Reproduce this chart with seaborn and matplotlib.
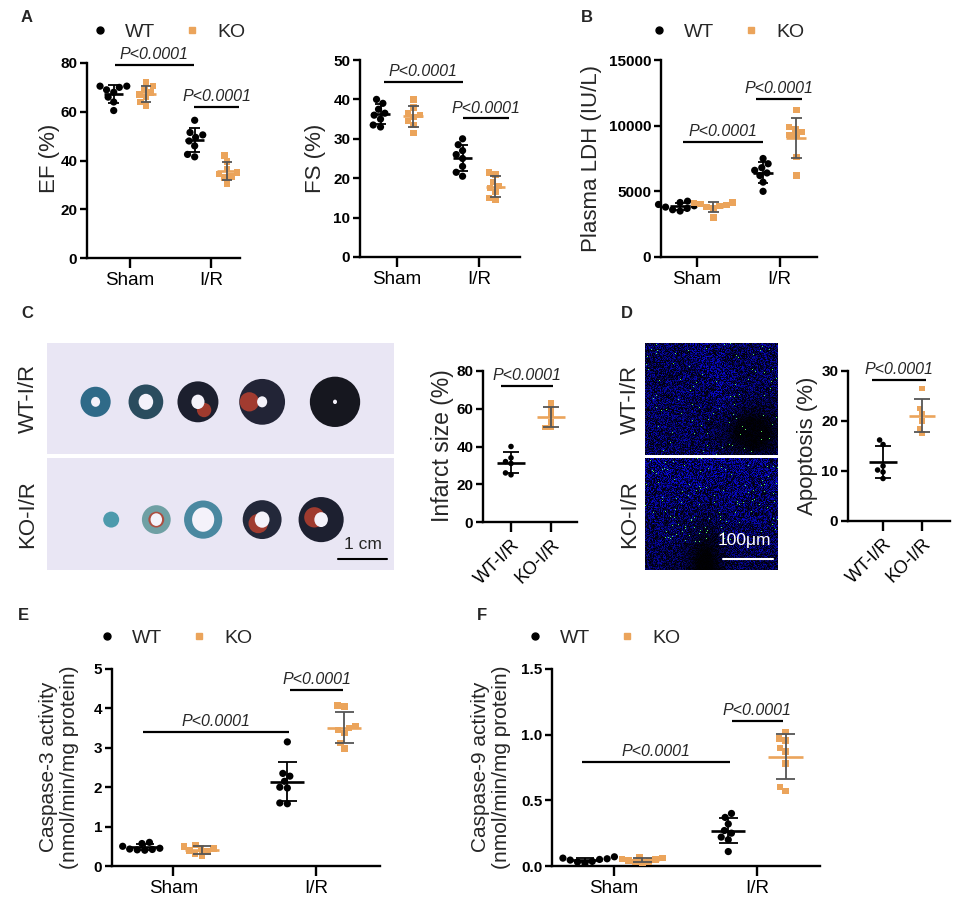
import numpy as np
import pandas as pd
import matplotlib
matplotlib.use('Agg')
import matplotlib.pyplot as plt
import seaborn as sns
from matplotlib.lines import Line2D
from matplotlib.patches import Ellipse
from matplotlib.markers import MarkerStyle

sns.set_theme(style='ticks')
plt.rcParams['font.family'] = ['Liberation Sans', 'DejaVu Sans']

W, H = 957, 900
WT_C = 'black'
KO_C = '#EBA45B'
SD_KO = '#555555'
PHOTO_BG = '#E9E6F4'

groups = ['Sham', 'I/R']
genos = ['WT', 'KO']

# A - EF (%)
ef_wt_sham = [70.5, 70.5, 70, 69, 68, 66, 64, 60.5]
ef_ko_sham = [72, 70.5, 69, 68, 67, 66, 64, 62.5]
ef_wt_ir = [56.5, 51.5, 50.5, 49.5, 48, 46, 42.5, 41.5]
ef_ko_ir = [42, 39.5, 36.5, 35, 34.5, 33.5, 33, 30.5]
# A - FS (%)
fs_wt_sham = [40, 39, 37.5, 36.5, 36, 35, 33.5, 33]
fs_ko_sham = [40, 38, 36.5, 36, 35.5, 34.5, 33.5, 31.5]
fs_wt_ir = [30, 28.5, 27, 26, 25, 23, 21.5, 20.5]
fs_ko_ir = [21.5, 21, 19, 18, 17.5, 16.5, 15, 14.5]
# B - Plasma LDH (IU/L)
ldh_wt_sham = [4250, 4150, 4000, 3900, 3800, 3700, 3600, 3500]
ldh_ko_sham = [4150, 4100, 4050, 3950, 3900, 3800, 3700, 3000]
ldh_wt_ir = [7500, 7100, 6800, 6600, 6400, 6200, 5700, 5000]
ldh_ko_ir = [11200, 9900, 9700, 9500, 9300, 9200, 7600, 6200]
# C - infarct size (%)
inf_labels = ['WT-I/R', 'KO-I/R']
inf_wt = [40, 34, 32, 31, 26, 25]
inf_ko = [63, 60, 57, 53, 50, 50]
# D - apoptosis (%)
apo_wt = [16.2, 15.3, 11, 10.2, 9.8, 8.5]
apo_ko = [26.5, 22.5, 21.5, 20, 18.5, 17.5]
# E - caspase-3
c3_wt_sham = [0.6, 0.57, 0.5, 0.45, 0.43, 0.42, 0.41, 0.40]
c3_ko_sham = [0.53, 0.5, 0.45, 0.44, 0.40, 0.37, 0.30, 0.27]
c3_wt_ir = [3.15, 2.35, 2.28, 2.15, 2.0, 1.98, 1.6, 1.58]
c3_ko_ir = [4.07, 4.05, 3.55, 3.5, 3.45, 3.38, 3.12, 2.98]
# F - caspase-9
c9_wt_sham = [0.07, 0.06, 0.055, 0.05, 0.045, 0.035, 0.03, 0.02]
c9_ko_sham = [0.07, 0.06, 0.055, 0.05, 0.04, 0.035, 0.03, 0.025]
c9_wt_ir = [0.40, 0.37, 0.32, 0.27, 0.25, 0.22, 0.20, 0.11]
c9_ko_ir = [1.02, 0.97, 0.955, 0.90, 0.87, 0.78, 0.60, 0.57]

P_TXT = 'P<0.0001'


def px(l, t, r, b):
    return [l / W, 1 - b / H, (r - l) / W, (b - t) / H]


def make_df(wt_sham, ko_sham, wt_ir, ko_ir):
    rows = []
    for grp, geno, vals in [('Sham', 'WT', wt_sham), ('Sham', 'KO', ko_sham),
                            ('I/R', 'WT', wt_ir), ('I/R', 'KO', ko_ir)]:
        rows += [(grp, geno, v) for v in vals]
    return pd.DataFrame(rows, columns=['group', 'genotype', 'value'])


def style_axes(ax, ylim, yticks, fmt=None):
    ax.set_ylim(*ylim)
    ax.set_yticks(yticks)
    if fmt:
        ax.set_yticklabels([fmt.format(t) for t in yticks])
    sns.despine(ax=ax)
    for s in ['left', 'bottom']:
        ax.spines[s].set_linewidth(1.7)
        ax.spines[s].set_color('black')
    ax.tick_params(axis='y', labelsize=11, width=1.7, length=5, pad=2, colors='black')
    ax.tick_params(axis='x', labelsize=13.5, width=1.7, length=7, pad=3, colors='black')
    for lab in ax.get_yticklabels():
        lab.set_fontweight('bold')
    ax.set_xlabel('')
    ax.set_ylabel('')
    ax.set_facecolor('none')


def mean_sd(ax, x, vals, color, sdcolor, half, cap):
    m, s = np.mean(vals), np.std(vals, ddof=1)
    ax.hlines(m, x - half, x + half, color=color, lw=1.9, zorder=4, clip_on=False)
    ax.vlines(x, m - s, m + s, color=sdcolor, lw=1.3, zorder=4, clip_on=False)
    ax.hlines([m - s, m + s], x - cap, x + cap, color=sdcolor, lw=1.3, zorder=4, clip_on=False)


def pbar(ax, x0, x1, y, fs=11.5):
    ax.plot([x0, x1], [y, y], color='black', lw=1.6, clip_on=False, solid_capstyle='butt')
    ax.annotate(P_TXT, ((x0 + x1) / 2, y), xytext=(0, 2), textcoords='offset points',
                ha='center', va='bottom', fontsize=fs, style='italic', annotation_clip=False)


def dodge_panel(box, df, ylim, yticks, xlim, bars, ms=5.2, fmt=None):
    ax = fig.add_axes(px(*box))
    pal = {'WT': WT_C, 'KO': KO_C}
    for geno, mk, size in [('WT', 'o', ms), ('KO', 's', ms - 0.5)]:
        sns.swarmplot(data=df[df.genotype == geno], x='group', y='value', hue='genotype',
                      order=groups, hue_order=genos, dodge=True, palette=pal, marker=mk,
                      size=size, linewidth=0, ax=ax, legend=False, clip_on=False, zorder=3)
    for i, grp in enumerate(groups):
        for geno, off in [('WT', -0.2), ('KO', 0.2)]:
            vals = df[(df.group == grp) & (df.genotype == geno)]['value']
            if geno == 'WT':
                mean_sd(ax, i + off, vals, WT_C, WT_C, 0.12, 0.065)
            else:
                mean_sd(ax, i + off, vals, KO_C, SD_KO, 0.12, 0.065)
    ax.set_xlim(*xlim)
    style_axes(ax, ylim, yticks, fmt)
    for x0, x1, y in bars:
        pbar(ax, x0, x1, y)
    return ax


def two_panel(box, wt, ko, ylim, yticks, xlim, bar):
    ax = fig.add_axes(px(*box))
    df = pd.DataFrame({'cond': [inf_labels[0]] * len(wt) + [inf_labels[1]] * len(ko),
                       'value': list(wt) + list(ko)})
    sns.swarmplot(data=df, x='cond', y='value', hue='cond', order=inf_labels,
                  palette={inf_labels[0]: WT_C, inf_labels[1]: KO_C}, size=4,
                  linewidth=0, ax=ax, legend=False, clip_on=False, zorder=3)
    sq = MarkerStyle('s')
    ax.collections[1].set_paths([sq.get_path().transformed(sq.get_transform())])
    mean_sd(ax, 0, wt, WT_C, WT_C, 0.36, 0.2)
    mean_sd(ax, 1, ko, KO_C, SD_KO, 0.34, 0.2)
    ax.set_xlim(*xlim)
    style_axes(ax, ylim, yticks)
    ax.set_xticks([0, 1])
    ax.set_xticklabels(inf_labels, rotation=45, ha='right', rotation_mode='anchor', fontsize=13)
    pbar(ax, *bar)
    return ax


def legend_at(cx, cy):
    handles = [Line2D([], [], ls='none', marker='o', color=WT_C, markersize=5),
               Line2D([], [], ls='none', marker='s', color=KO_C, markersize=5)]
    fig.legend(handles, genos, loc='center', bbox_to_anchor=(cx / W, 1 - cy / H), ncol=2,
               frameon=False, fontsize=14, handletextpad=0.8, columnspacing=1.4,
               handlelength=1.0, borderpad=0)


def ftext(x, y, s, **kw):
    fig.text(x / W, 1 - y / H, s, **kw)


fig = plt.figure(figsize=(W / 100, H / 100), dpi=100)

# ---- A ----
dodge_panel((87, 63, 240, 258), make_df(ef_wt_sham, ef_ko_sham, ef_wt_ir, ef_ko_ir),
            (0, 80), [0, 20, 40, 60, 80], (-0.53, 1.36),
            [(-0.19, 0.79, 79.3), (0.79, 1.35, 62)])
dodge_panel((360, 60, 520, 257), make_df(fs_wt_sham, fs_ko_sham, fs_wt_ir, fs_ko_ir),
            (0, 50), [0, 10, 20, 30, 40, 50], (-0.45, 1.5),
            [(-0.16, 0.8, 44.5), (0.8, 1.37, 35.2)])
ftext(50, 158, 'EF (%)', rotation=90, ha='center', va='center', fontsize=16)
ftext(315, 158, 'FS (%)', rotation=90, ha='center', va='center', fontsize=16)
legend_at(168, 32)

# ---- B ----
dodge_panel((661, 60, 817, 257), make_df(ldh_wt_sham, ldh_ko_sham, ldh_wt_ir, ldh_ko_ir),
            (0, 15000), [0, 5000, 10000, 15000], (-0.43, 1.45),
            [(-0.17, 0.8, 8770), (0.71, 1.27, 12025)])
ftext(592, 158, 'Plasma LDH (IU/L)', rotation=90, ha='center', va='center', fontsize=16)
legend_at(727, 32)

# ---- C: TTC-stained heart slices ----
# (x centre, diameter, wall colour, hole fraction, red patch (dx, dy, size) or None)
ring_top = [(0.14, 0.087, '#2f6a88', 0.3, None), (0.285, 0.10, '#2a4c5e', 0.42, None),
            (0.435, 0.118, '#1c1f2e', 0.32, (0.15, -0.2, 0.35)),
            (0.62, 0.132, '#222436', 0.22, (-0.28, 0.0, 0.42)),
            (0.83, 0.145, '#16171f', 0.08, None)]
ring_bot = [(0.185, 0.046, '#4d9aac', 0.0, None), (0.315, 0.083, '#6fa0a4', 0.4, (0.0, 0.0, 0.55)),
            (0.45, 0.11, '#4a88a0', 0.58, None), (0.62, 0.112, '#23283a', 0.38, (-0.1, -0.1, 0.5)),
            (0.79, 0.13, '#1d2030', 0.3, (-0.15, 0.05, 0.45))]
for (t, b), rings, cy, lab in [((343, 454), ring_top, 0.47, 'WT-I/R'),
                               ((458, 570), ring_bot, 0.45, 'KO-I/R')]:
    pax = fig.add_axes(px(47, t, 394, b))
    pax.set_facecolor(PHOTO_BG)
    pax.set_xlim(0, 1)
    pax.set_ylim(0, 1)
    pax.set_xticks([])
    pax.set_yticks([])
    for s in pax.spines.values():
        s.set_visible(False)
    asp = (394 - 47) / (b - t)
    for cx, d, col, hole, red in rings:
        pax.add_patch(Ellipse((cx, cy), d, d * asp, color=col, lw=0))
        if red:
            dx, dy, rs = red
            pax.add_patch(Ellipse((cx + dx * d, cy + dy * d * asp), d * rs, d * rs * asp,
                                  color='#b8402f', lw=0, alpha=0.85))
        if hole > 0:
            pax.add_patch(Ellipse((cx, cy), d * hole, d * hole * asp * 1.1, color='#f4f2fa', lw=0))
    ftext(28, (t + b) / 2, lab, rotation=90, ha='center', va='center', fontsize=16)
    if lab == 'KO-I/R':
        pax.plot([0.84, 0.98], [0.1, 0.1], color='black', lw=1.5)
        pax.text(0.91, 0.16, '1 cm', ha='center', va='bottom', fontsize=12.5)

two_panel((483, 371, 577, 522), inf_wt, inf_ko, (0, 80), [0, 20, 40, 60, 80], (-0.7, 1.65),
          (-0.25, 1.05, 72))
ftext(442, 446, 'Infarct size (%)', rotation=90, ha='center', va='center', fontsize=16.5)


# ---- D: TUNEL images (texture built from a deterministic hash) ----
def hash01(i, j, seed):
    h = (i.astype(np.uint64) * np.uint64(374761393) + j.astype(np.uint64) * np.uint64(668265263)
         + np.uint64(seed * 1442695041)) & np.uint64(0xFFFFFFFF)
    h = ((h ^ (h >> np.uint64(13))) * np.uint64(1274126177)) & np.uint64(0xFFFFFFFF)
    h = h ^ (h >> np.uint64(16))
    return (h & np.uint64(0xFFFF)).astype(float) / 65535.0


for (t, b), seed, lab in [((343, 455), 3, 'WT-I/R'), ((458, 570), 7, 'KO-I/R')]:
    fax = fig.add_axes(px(645, t, 778, b))
    jj, ii = np.meshgrid(np.arange(133), np.arange(b - t))
    n = hash01(ii, jj, seed)
    yy, xx = ii / (b - t), jj / 133.0
    if seed == 3:
        dens = np.clip(1.0 - 1.2 * np.exp(-((xx - 0.8) ** 2 + (yy - 0.8) ** 2) / 0.05), 0.1, 1)
        dens *= 0.75 + 0.25 * np.exp(-((xx - 0.45 - 0.3 * yy) ** 2) / 0.01)
    else:
        dens = np.clip(1.0 - 1.1 * np.exp(-((xx - 0.45) ** 2 / 0.02 + (yy - 1.0) ** 2 / 0.15)), 0.05, 1)
        dens *= 1.0 - 0.35 * yy
    blue = np.clip((0.03 + 1.0 * n ** 1.6) * dens, 0, 0.85)
    img = np.dstack([0.04 * blue, 0.04 * blue, blue])
    g = hash01(ii, jj, seed + 11) > (0.994 if seed == 3 else 0.989)
    if seed == 7:
        g &= yy < 0.75
    img[g] = [0.35, 0.95, 0.35]
    fax.imshow(img, aspect='auto', interpolation='nearest')
    fax.set_xticks([])
    fax.set_yticks([])
    for s in fax.spines.values():
        s.set_visible(False)
    ftext(630, (t + b) / 2, lab, rotation=90, ha='center', va='center', fontsize=16)
    if seed == 7:
        fax.plot([0.58 * 133, 0.96 * 133], [0.9 * (b - t)] * 2, color='white', lw=1.5)
        fax.text(0.74 * 133, 0.8 * (b - t), '100\u03bcm', color='white', ha='center',
                 va='bottom', fontsize=12.5)

two_panel((848, 371, 950, 521), apo_wt, apo_ko, (0, 30), [0, 10, 20, 30], (-0.9, 1.72),
          (-0.28, 1.1, 28.2))
ftext(807, 446, 'Apoptosis (%)', rotation=90, ha='center', va='center', fontsize=16)

# ---- E ----
dodge_panel((112, 669, 380, 866), make_df(c3_wt_sham, c3_ko_sham, c3_wt_ir, c3_ko_ir),
            (0, 5), [0, 1, 2, 3, 4, 5], (-0.43, 1.45),
            [(-0.21, 0.81, 3.40), (0.82, 1.19, 4.46)])
ftext(59, 767, 'Caspase-3 activity\n(nmol/min/mg protein)', rotation=90, ha='center',
      va='center', fontsize=15, linespacing=1.15)
legend_at(175, 638)

# ---- F ----
dodge_panel((552, 669, 820, 866), make_df(c9_wt_sham, c9_ko_sham, c9_wt_ir, c9_ko_ir),
            (0, 1.5), [0, 0.5, 1.0, 1.5], (-0.43, 1.44),
            [(-0.22, 0.81, 0.795), (0.825, 1.18, 1.107)], fmt='{:.1f}')
ftext(491, 767, 'Caspase-9 activity\n(nmol/min/mg protein)', rotation=90, ha='center',
      va='center', fontsize=15, linespacing=1.15)
legend_at(603, 638)

# panel letters
for lab, x, y in [('A', 27, 17), ('B', 587, 17), ('C', 27, 313), ('D', 627, 313),
                  ('E', 23, 615), ('F', 482, 615)]:
    ftext(x, y, lab, ha='center', va='center', fontsize=12, fontweight='bold')

fig.savefig('out.png', dpi=100)
